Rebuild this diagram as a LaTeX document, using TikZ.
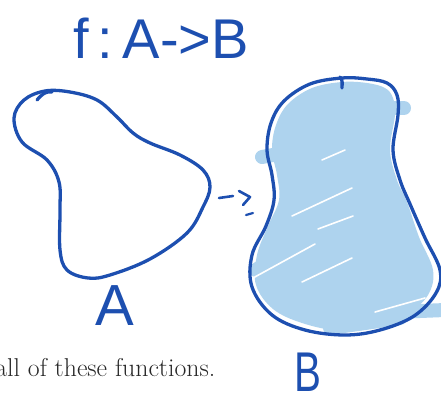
\documentclass[tikz,border=0pt]{standalone}
\usepackage{fontspec}
\newfontfamily\handfont{Liberation Sans}
\definecolor{ink}{HTML}{1D4FB0}
\definecolor{fillblue}{HTML}{AED3EE}
\definecolor{printgray}{HTML}{262626}
\begin{document}
\begin{tikzpicture}[x=1pt,y=-1pt,
  outline/.style={draw=ink,line width=3.3pt,line cap=round,line join=round},
  scrib/.style={draw=fillblue,line width=14pt,line cap=round},
  streak/.style={draw=white,line width=1.6pt,line cap=round},
  hand/.style={text=ink,inner sep=0pt,font=\handfont\fontsize{#1}{#1}\selectfont},
  hand/.default=56,
  print/.style={text=printgray,inner sep=0pt,font=\fontsize{25.8}{30}\selectfont}]
\useasboundingbox (0,0) rectangle (441,399);
\begin{scope}
\clip (0,0) rectangle (441,399);
% ---- fill of B
\fill[fillblue] plot[smooth cycle,tension=0.6] coordinates {
 (342,82) (367,83) (385,88) (393,98) (395,115) (390,150) (397,180) (407,202) (419,237) (433,270) (428,295) (407,314) (373,328) (340,331) (302,323) (273,309) (256,285) (257,255) (268,226) (279,200) (277,175) (272,150) (276,125) (288,104) (312,88)};
\draw[scrib] (262,157) -- (300,150);
\draw[scrib] (380,108) -- (404,108);
\draw[scrib] (395,312) -- (445,310);
\draw[scrib] (330,328) -- (400,318);
\draw[scrib] (256,270) -- (300,240);
% white streaks
\draw[streak] (292,216) -- (352,188);
\draw[streak] (318,229) -- (353,216);
\draw[streak] (253,278) -- (315,244);
\draw[streak] (302,282) -- (352,258);
\draw[streak] (375,312) -- (425,298);
\draw[streak] (322,160) -- (345,150);
% ---- outline B
\draw[outline] plot[smooth cycle,tension=0.6] coordinates {
 (342,78) (367,79) (387,83) (397,95) (398,115) (393,150) (400,180) (410,204) (425,238) (440,270) (436,293) (414,316) (380,330) (345,335) (305,330) (272,315) (252,287) (252,255) (266,226) (274,200) (272,175) (267,150) (271,123) (284,101) (310,84)};
\draw[outline] (340,77) .. controls (343,80) and (342,84) .. (342,88);
% ---- outline A
\draw[outline] plot[smooth cycle,tension=0.6] coordinates {
 (45,91) (70,92) (97,100) (117,117) (133,133) (150,143) (180,155) (203,170) (210,187) (203,207) (187,233) (150,259) (110,275) (88,278) (67,270) (60,250) (60,210) (59,182) (47,160) (22,142) (14,118) (24,100)};
\draw[outline] (37,100) .. controls (42,94) and (46,91) .. (52,92);
% ---- arrow strokes
\draw[outline,line width=2.6pt] (219,198) -- (233,196);
\draw[outline,line width=2.6pt] (239,191) -- (250,197) -- (243,205);
\draw[outline,line width=2.2pt] (246,215) -- (253,213);
% ---- texts
\node[hand=56,anchor=base] (title) at (161,58) {f\,:\,A->B};
\node[hand=58,anchor=base] (labelA) at (115,325) {A};
\node[hand=56,anchor=base,xscale=0.72] (labelB) at (308,391) {B};
\node[print,anchor=base east] (caption) at (215.5,376) {all of these functions.};
\end{scope}
\end{tikzpicture}
\end{document}
